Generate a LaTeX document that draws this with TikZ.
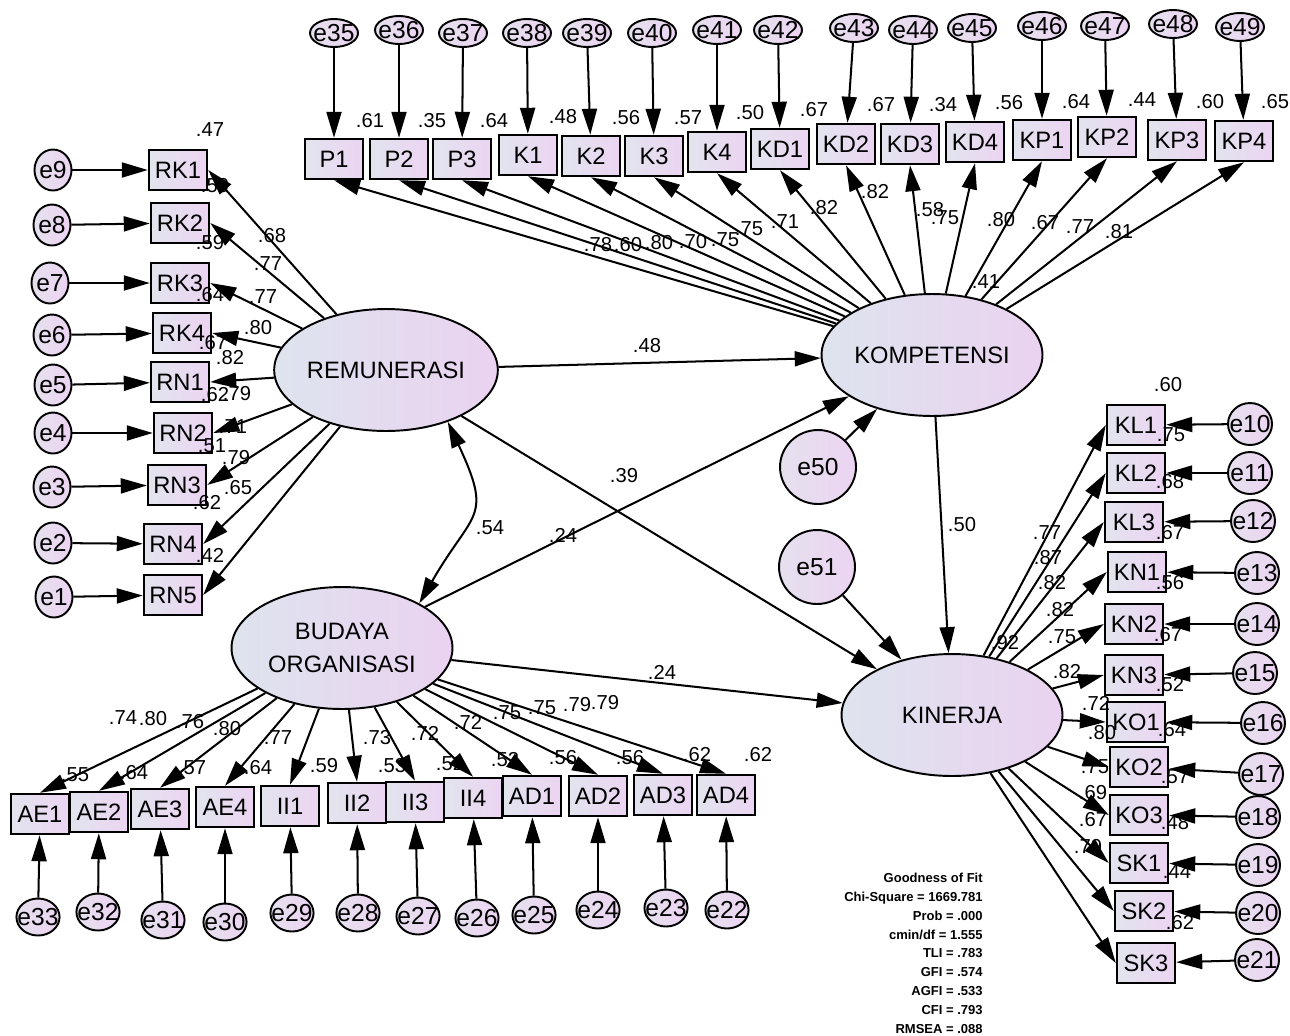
\documentclass[tikz,border=0pt]{standalone}
\usepackage{fontspec}
\setmainfont{Liberation Sans}
\usetikzlibrary{arrows.meta,shapes.geometric}

\definecolor{boxleft}{RGB}{226,228,238}
\definecolor{boxright}{RGB}{236,212,242}
\definecolor{latleft}{RGB}{222,228,238}
\definecolor{latright}{RGB}{234,210,240}
\definecolor{errleft}{RGB}{230,224,238}
\definecolor{errright}{RGB}{236,212,242}

\begin{document}
\begin{tikzpicture}[x=0.02cm,y=-0.02cm,
	obs/.style={draw, line width=1.4pt, minimum width=1.16cm, minimum height=0.8cm, inner sep=0pt, left color=boxleft, right color=boxright, font=\fontsize{13.5}{15}\selectfont},
	lat/.style={ellipse, draw, line width=1.1pt, minimum width=4.42cm, minimum height=2.44cm, inner sep=0pt, left color=latleft, right color=latright, align=center, font=\fontsize{13.5}{19}\selectfont},
	err/.style={ellipse, draw, line width=1.1pt, inner sep=-3pt, left color=errleft, right color=errright, font=\fontsize{14}{16}\selectfont},
	errtop/.style={err, minimum width=0.96cm, minimum height=0.56cm},
	errbot/.style={err, minimum width=0.86cm, minimum height=0.74cm},
	errside/.style={err, minimum width=0.74cm, minimum height=0.82cm},
	errright/.style={err, minimum width=0.88cm, minimum height=0.84cm},
	errbig/.style={err, minimum width=1.52cm, minimum height=1.48cm},
	num/.style={inner sep=0pt, font=\fontsize{11.5}{13}\selectfont},
	arr/.style={-{Triangle[length=0.52cm,width=0.3cm]}, line width=1.15pt},
	cov/.style={{Triangle[length=0.52cm,width=0.3cm]}-{Triangle[length=0.52cm,width=0.3cm]}, line width=1.15pt},
	fit/.style={inner sep=0pt, align=right, font=\bfseries\fontsize{7.4}{10.7}\selectfont}
	]
	\useasboundingbox (0,0) rectangle (1290,1035);

	% latent variables
	\node[lat] (remu) at (386,370) {REMUNERASI};
	\node[lat] (komp) at (932,355) {KOMPETENSI};
	\node[lat] (buda) at (342,648) {BUDAYA\\ORGANISASI};
	\node[lat] (kine) at (952,715) {KINERJA};
	\node[errbig] (e50) at (818,467) {e50};
	\node[errbig] (e51) at (817,567) {e51};

	% KOMPETENSI indicators (top row)
	\foreach \n/\bx/\by/\er/\ex/\ey/\sm/\sx/\sy/\ld/\lx/\ly in {
		P1/334/159/e35/334/33/.61/370/121/.78/598/245,
		P2/399/159/e36/399/30/.35/432/121/.60/628/245,
		P3/462/159/e37/463/33/.64/494/121/.80/659/243,
		K1/528/155/e38/527/33/.48/563/117/.70/693/242,
		K2/591/156/e39/587/33/.56/626/118/.75/725/240,
		K3/654/156/e40/652/33/.57/688/118/.75/749/229,
		K4/717/152/e41/717/30/.50/750/113/.71/785/222,
		KD1/780/149/e42/778/30/.67/814/110/.82/824/208,
		KD2/846/144/e43/854/28/.67/881/105/.82/875/192,
		KD3/910/144/e44/913/30/.34/943/105/.58/930/210,
		KD4/975/142/e45/972/28/.56/1009/103/.75/945/218,
		KP1/1042/140/e46/1042/26/.64/1076/102/.80/1001/220,
		KP2/1107/137/e47/1105/26/.44/1142/100/.67/1045/223,
		KP3/1177/140/e48/1173/24/.60/1210/102/.77/1080/227,
		KP4/1244/141/e49/1240/27/.65/1275/102/.81/1119/232}{
		\node[obs] (\n) at (\bx,\by) {\n};
		\node[errtop] (\er) at (\ex,\ey) {\er};
		\draw[arr] (\er) -- (\n);
		\draw[arr] (komp) -- (\n.south);
		\node[num] (r\n) at (\sx,\sy) {\sm};
		\node[num] (w\n) at (\lx,\ly) {\ld};
	}

	% REMUNERASI indicators (left column)
	\foreach \n/\bx/\by/\er/\ex/\ey/\sm/\sx/\sy/\ld/\lx/\ly in {
		RK1/178/170/e9/53/170/.47/210/130/.68/272/236,
		RK2/180/223/e8/52/225/.59/215/186/.77/268/264,
		RK3/180/283/e7/50/283/.59/210/243/.77/263/297,
		RK4/182/333/e6/52/335/.64/210/295/.80/258/328,
		RN1/180/382/e5/53/385/.67/213/343/.82/230/358,
		RN2/183/433/e4/53/433/.62/215/395/.79/237/394,
		RN3/177/485/e3/52/487/.51/212/446/.71/233/427,
		RN4/173/544/e2/53/543/.62/207/503/.79/236/458,
		RN5/173/595/e1/54/597/.42/210/555/.65/238/488}{
		\node[obs] (\n) at (\bx,\by) {\n};
		\node[errside] (\er) at (\ex,\ey) {\er};
		\draw[arr] (\er) -- (\n);
		\draw[arr] (remu) -- (\n.east);
		\node[num] (r\n) at (\sx,\sy) {\sm};
		\node[num] (w\n) at (\lx,\ly) {\ld};
	}

	% KINERJA indicators (right column)
	\foreach \n/\bx/\by/\er/\ex/\ey/\sm/\sx/\sy/\ld/\lx/\ly in {
		KL1/1136/425/e10/1250/424/.60/1168/385/.77/1047/533,
		KL2/1136/473/e11/1250/473/.75/1171/435/.87/1048/558,
		KL3/1134/522/e12/1253/521/.68/1170/482/.82/1052/583,
		KN1/1137/572/e13/1257/573/.67/1170/533/.82/1060/610,
		KN2/1134/624/e14/1257/624/.56/1170/583/.75/1062/637,
		KN3/1134/675/e15/1255/673/.67/1168/635/.82/1067/672,
		KO1/1136/722/e16/1263/723/.52/1170/685/.72/1096/703,
		KO2/1139/767/e17/1261/774/.64/1172/730/.80/1102/733,
		KO3/1139/815/e18/1258/817/.57/1175/777/.75/1095/767,
		SK1/1139/863/e19/1258/865/.48/1175/823/.69/1093/793,
		SK2/1144/911/e20/1258/913/.44/1177/872/.67/1093/820,
		SK3/1146/963/e21/1257/960/.62/1180/923/.79/1088/847}{
		\node[obs] (\n) at (\bx,\by) {\n};
		\node[errright] (\er) at (\ex,\ey) {\er};
		\draw[arr] (\er) -- (\n);
		\draw[arr] (kine) -- (\n.west);
		\node[num] (r\n) at (\sx,\sy) {\sm};
		\node[num] (w\n) at (\lx,\ly) {\ld};
	}

	% BUDAYA ORGANISASI indicators (bottom row)
	\foreach \n/\bx/\by/\er/\ex/\ey/\sm/\sx/\sy/\ld/\lx/\ly in {
		AE1/40/814/e33/38/917/.55/75/775/.74/123/718,
		AE2/99/812/e32/98/912/.64/134/773/.80/153/719,
		AE3/160/809/e31/163/920/.57/192/768/.76/190/722,
		AE4/225/807/e30/225/922/.64/258/768/.80/227/729,
		II1/290/806/e29/292/913/.59/324/766/.77/278/738,
		II2/357/803/e28/358/913/.53/392/766/.73/377/738,
		II3/415/802/e27/418/916/.52/450/764/.72/425/733,
		II4/473/798/e26/477/918/.52/505/760/.72/468/722,
		AD1/532/796/e25/534/915/.56/563/758/.75/507/713,
		AD2/598/796/e24/598/910/.56/630/758/.75/542/708,
		AD3/663/795/e23/666/908/.62/697/755/.79/577/705,
		AD4/726/795/e22/727/910/.62/758/755/.79/605/703}{
		\node[obs] (\n) at (\bx,\by) {\n};
		\node[errbot] (\er) at (\ex,\ey) {\er};
		\draw[arr] (\er) -- (\n);
		\draw[arr] (buda) -- (\n.north);
		\node[num] (r\n) at (\sx,\sy) {\sm};
		\node[num] (w\n) at (\lx,\ly) {\ld};
	}

	% structural paths
	\draw[arr] (remu) -- (komp);
	\draw[arr] (remu) -- (kine);
	\draw[arr] (buda) -- (komp);
	\draw[arr] (buda) -- (kine);
	\draw[arr] (komp) -- (kine);
	\draw[arr] (e50) -- (komp);
	\draw[arr] (e51) -- (kine);
	\draw[cov] (remu.-40) to[out=-65,in=60,looseness=1.5] (buda.30);

	\node[num] (p48) at (647,346) {.48};
	\node[num] (p39) at (624,476) {.39};
	\node[num] (p24a) at (563,535) {.24};
	\node[num] (p24b) at (662,672) {.24};
	\node[num] (p50) at (962,525) {.50};
	\node[num] (c54) at (490,528) {.54};
	\node[num] (r41) at (986,282) {.41};
	\node[num] (r92) at (1005,643) {.92};

	% fit indices
	\node[fit, anchor=north east] (gof) at (983,873) {Goodness of Fit\\Chi-Square = 1669.781\\Prob = .000\\cmin/df = 1.555\\TLI = .783\\GFI = .574\\AGFI = .533\\CFI = .793\\RMSEA = .088};
\end{tikzpicture}
\end{document}
